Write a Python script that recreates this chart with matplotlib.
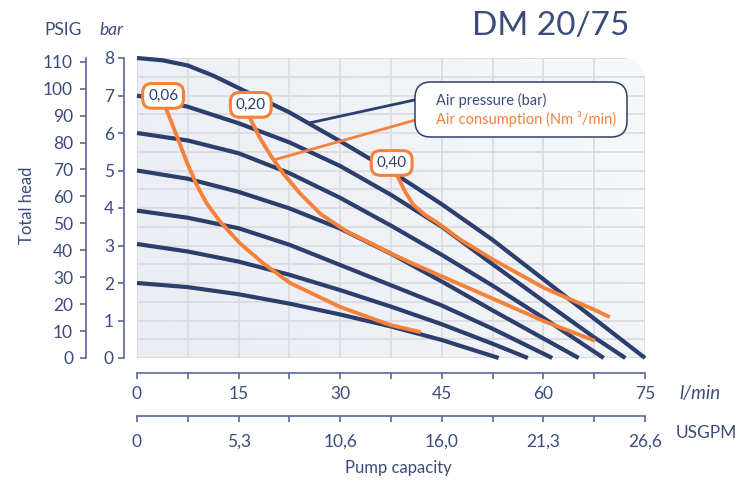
import numpy as np
import matplotlib
matplotlib.use('Agg')
import matplotlib.pyplot as plt
from matplotlib.patches import FancyBboxPatch, PathPatch, ConnectionPatch
from matplotlib.path import Path
from matplotlib.colors import LinearSegmentedColormap

plt.rcParams['font.family'] = ['Lato', 'DejaVu Sans']

NAVY = '#2c3e6d'
TEXT = '#3b4b7c'
AXIS = '#55669a'
ORANGE = '#f5813a'
GRID = '#d9dce2'
PT = 72 / 100  # points per pixel at dpi 100

# pump curves: flow (l/min) against total head (bar), one per air pressure
p8_q = [0, 3.75, 7.5, 11.25, 15, 22.5, 30, 37.5, 45, 52.5, 60, 67.5, 75]
p8_h = [8.0, 7.94, 7.8, 7.53, 7.2, 6.55, 5.78, 4.98, 4.1, 3.15, 2.1, 1.05, 0]
p7_q = [0, 7.5, 15, 22.5, 30, 37.5, 45, 52.5, 60, 67.5, 72.1]
p7_h = [7.0, 6.7, 6.26, 5.75, 5.12, 4.35, 3.5, 2.5, 1.52, 0.55, 0]
p6_q = [0, 7.5, 15, 22.5, 30, 37.5, 45, 52.5, 60, 68.9]
p6_h = [6.0, 5.8, 5.46, 4.93, 4.27, 3.53, 2.75, 1.93, 1.07, 0]
p5_q = [0, 7.5, 15, 22.5, 30, 37.5, 45, 52.5, 60, 65.2]
p5_h = [5.0, 4.78, 4.43, 3.99, 3.45, 2.78, 2.04, 1.27, 0.52, 0]
p4_q = [0, 7.5, 15, 22.5, 30, 37.5, 45, 52.5, 61.3]
p4_h = [3.93, 3.74, 3.46, 3.02, 2.48, 1.94, 1.4, 0.78, 0]
p3_q = [0, 7.5, 15, 22.5, 30, 37.5, 45, 52.5, 57.7]
p3_h = [3.04, 2.84, 2.57, 2.22, 1.81, 1.37, 0.9, 0.38, 0]
p2_q = [0, 7.5, 15, 22.5, 30, 37.5, 45, 53.4]
p2_h = [2.0, 1.89, 1.7, 1.45, 1.16, 0.84, 0.48, 0]

# air consumption lines (Nm3/min), first point sits under the value tag
c06_q = [3.85, 4.38, 5.86, 7.34, 8.82, 10.3, 12.3, 15.2, 18.6, 22.6, 30.0, 37.4, 41.9]
c06_h = [6.99, 6.61, 5.93, 5.23, 4.61, 4.12, 3.63, 3.06, 2.53, 2.0, 1.36, 0.88, 0.69]
c20_q = [16.8, 16.7, 18.2, 19.7, 21.6, 24.1, 27.1, 31.0, 34.5, 37.7, 40.8, 45.1, 52.7, 60.1, 67.6]
c20_h = [6.75, 6.39, 5.85, 5.41, 4.92, 4.38, 3.84, 3.37, 3.06, 2.77, 2.51, 2.17, 1.57, 0.98, 0.46]
c40_q = [37.6, 38.5, 39.6, 40.8, 42.5, 44.4, 47.8, 52.7, 60.1, 67.6, 69.8]
c40_h = [5.2, 4.83, 4.43, 4.08, 3.82, 3.6, 3.15, 2.61, 1.87, 1.28, 1.09]

pressure_curves = [(p8_q, p8_h), (p7_q, p7_h), (p6_q, p6_h), (p5_q, p5_h),
                   (p4_q, p4_h), (p3_q, p3_h), (p2_q, p2_h)]
consumption = [('0,06', c06_q, c06_h), ('0,20', c20_q, c20_h), ('0,40', c40_q, c40_h)]

lmin_ticks = [0, 15, 30, 45, 60, 75]
usgpm_labels = ['0', '5,3', '10,6', '16,0', '21,3', '26,6']
bar_ticks = [0, 1, 2, 3, 4, 5, 6, 7, 8]
psig_ticks = [0, 10, 20, 30, 40, 50, 60, 70, 80, 90, 100, 110]

W, H = 748, 482
fig = plt.figure(figsize=(W / 100, H / 100), dpi=100)
fig.patch.set_facecolor('white')

x0, x1, y0, y1 = 137, 645, 58, 358
ax = fig.add_axes([x0 / W, 1 - y1 / H, (x1 - x0) / W, (y1 - y0) / H])
ax.set_xlim(0, 75)
ax.set_ylim(0, 8)
ax.patch.set_visible(False)

# plot background with a rounded top-right corner
rx, ry = 22 / (x1 - x0), 22 / (y1 - y0)
t = np.linspace(0, np.pi / 2, 20)
verts = [(0, 0), (1, 0)] + list(zip(1 - rx + rx * np.cos(t), 1 - ry + ry * np.sin(t))) + [(0, 1), (0, 0)]
bg = PathPatch(Path(verts), transform=ax.transAxes, fc='#eff1f5', ec='none', zorder=0)
ax.add_patch(bg)
gx, gy = np.meshgrid(np.linspace(0, 1, 200), np.linspace(0, 1, 100))
shade = LinearSegmentedColormap.from_list('bg', ['#eaecf2', '#f7f8fa'])
im = ax.imshow(0.7 * gx + 0.3 * gy, extent=[0, 75, 0, 8], origin='lower', aspect='auto',
               cmap=shade, zorder=0.5)
im.set_clip_path(bg)

# grid: every 7.5 l/min and every 0.5 bar, clipped to the background shape
gv = ax.vlines(np.arange(0, 75.1, 7.5), 0, 8, color=GRID, lw=1.3, zorder=1)
gh = ax.hlines(np.arange(0, 8.01, 0.5), 0, 75, color=GRID, lw=1.3, zorder=1)
gv.set_clip_path(bg)
gh.set_clip_path(bg)

ax.set_xticks(lmin_ticks)
ax.set_xticks(np.arange(7.5, 75, 15), minor=True)
ax.set_yticks(bar_ticks)

for s in ['top', 'right']:
    ax.spines[s].set_visible(False)
ax.spines['left'].set_position(('outward', 13 * PT))
ax.spines['bottom'].set_position(('outward', 15 * PT))
for s in ['left', 'bottom']:
    ax.spines[s].set_color(AXIS)
    ax.spines[s].set_linewidth(1.2)
ax.tick_params(axis='both', which='both', colors=AXIS, labelcolor=TEXT, labelsize=12.5,
               length=6 * PT, width=1.2)
ax.tick_params(axis='y', pad=4 * PT)
ax.tick_params(axis='x', pad=7 * PT)
ax.set_xticklabels([str(v) for v in lmin_ticks])

# PSIG scale
ax_psi = ax.twinx()
ax_psi.set_ylim(0, 111.4)
ax_psi.set_yticks(psig_ticks)
ax_psi.yaxis.tick_left()
for s in ['top', 'right', 'bottom']:
    ax_psi.spines[s].set_visible(False)
ax_psi.spines['left'].set_visible(True)
ax_psi.spines['left'].set_position(('outward', 51 * PT))
ax_psi.spines['left'].set_color(AXIS)
ax_psi.spines['left'].set_linewidth(1.2)
ax_psi.tick_params(axis='y', colors=AXIS, labelcolor=TEXT, labelsize=12.5, length=6 * PT,
                   width=1.2, pad=7 * PT)

# USGPM scale
ax_us = ax.twiny()
ax_us.set_xlim(0, 75)
ax_us.xaxis.tick_bottom()
ax_us.set_xticks(lmin_ticks)
ax_us.set_xticklabels(usgpm_labels)
ax_us.set_xticks(np.arange(7.5, 75, 15), minor=True)
for s in ['top', 'right', 'left']:
    ax_us.spines[s].set_visible(False)
ax_us.spines['bottom'].set_visible(True)
ax_us.spines['bottom'].set_position(('outward', 58 * PT))
ax_us.spines['bottom'].set_color(AXIS)
ax_us.spines['bottom'].set_linewidth(1.2)
ax_us.tick_params(axis='x', which='both', colors=AXIS, labelcolor=TEXT, labelsize=12.5,
                  length=6 * PT, width=1.2, pad=12 * PT)

# curves
for q, h in pressure_curves:
    ax.plot(q, h, color=NAVY, lw=3.0, solid_capstyle='butt', solid_joinstyle='round',
            zorder=3, clip_on=False)
for label, q, h in consumption:
    ax.plot(q, h, color=ORANGE, lw=2.8, solid_capstyle='butt', solid_joinstyle='round', zorder=4)
    ax.text(q[0], h[0], label, ha='center', va='center', fontsize=11, color=NAVY, zorder=6,
            bbox=dict(boxstyle='round,pad=0.35,rounding_size=0.6', fc='white', ec=ORANGE, lw=2.2))

# legend box with leader lines
fig.patches.append(FancyBboxPatch((4.15, 3.45), 2.12, 0.55, boxstyle='round,pad=0,rounding_size=0.16',
                                  transform=fig.dpi_scale_trans, fc='white', ec=NAVY, lw=1.1,
                                  zorder=5))
fig.text(4.36, 3.82, 'Air pressure (bar)', transform=fig.dpi_scale_trans, ha='left', va='center',
         fontsize=10.5, color=TEXT, zorder=6)
fig.text(4.36, 3.63, 'Air consumption (Nm ³/min)', transform=fig.dpi_scale_trans, ha='left',
         va='center', fontsize=10.5, color=ORANGE, zorder=6)
q_blue, q_orange = 25.3, 20.2
ax.add_artist(ConnectionPatch((q_blue, np.interp(q_blue, p8_q, p8_h)), (4.19, 3.83),
                              coordsA=ax.transData, coordsB=fig.dpi_scale_trans,
                              color=NAVY, lw=2.0, zorder=5))
ax.add_artist(ConnectionPatch((q_orange, np.interp(q_orange, c20_q[1:], c20_h[1:])), (4.19, 3.63),
                              coordsA=ax.transData, coordsB=fig.dpi_scale_trans,
                              color=ORANGE, lw=2.0, zorder=5))

# titles and axis names
fig.text(551 / W, 1 - 26 / H, 'DM 20/75', ha='center', va='center', fontsize=24, color=TEXT)
fig.text(63 / W, 1 - 30 / H, 'PSIG', ha='center', va='center', fontsize=12.5, color=TEXT)
fig.text(111 / W, 1 - 30 / H, 'bar', ha='center', va='center', fontsize=12.5, color=TEXT, style='italic')
fig.text(27 / W, 1 - 205 / H, 'Total head', ha='center', va='center', fontsize=12, color=TEXT,
         rotation=90)
fig.text(700 / W, 1 - 393 / H, 'l/min', ha='center', va='center', fontsize=13.5, color=TEXT, style='italic')
fig.text(706 / W, 1 - 433 / H, 'USGPM', ha='center', va='center', fontsize=12.5, color=TEXT)
fig.text(398 / W, 1 - 468 / H, 'Pump capacity', ha='center', va='center', fontsize=12, color=TEXT)

fig.savefig('out.png', dpi=100)
